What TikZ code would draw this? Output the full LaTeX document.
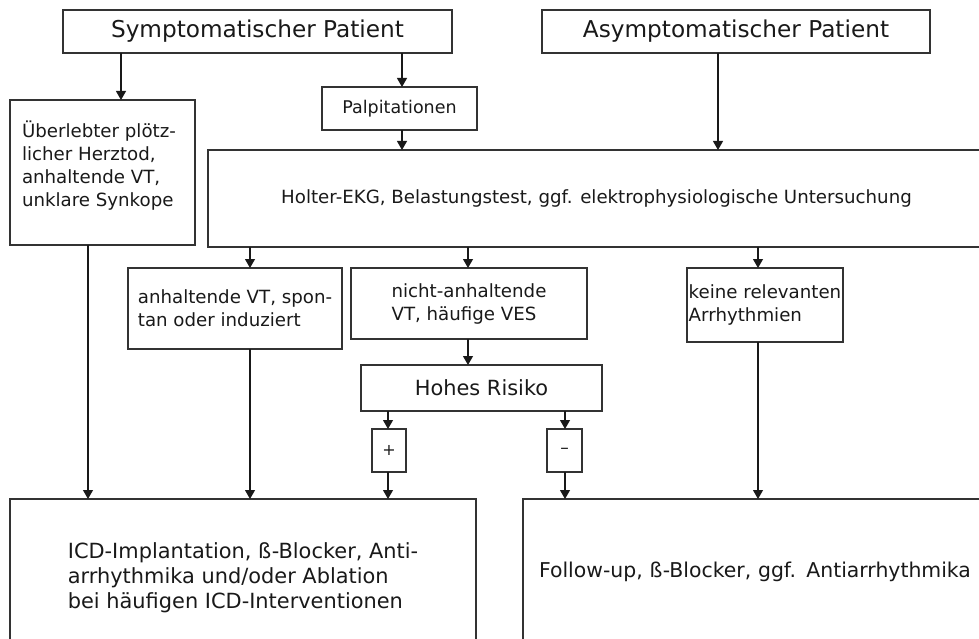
\documentclass[tikz,border=0pt]{standalone}
\usepackage{fontspec}
\setmainfont{DejaVu Sans}
\usetikzlibrary{arrows.meta, positioning, calc}

\begin{document}
\begin{tikzpicture}[x=1pt, y=-1pt,
  box/.style={draw=black!80, line width=1.3pt, inner sep=0pt, outer sep=0pt, anchor=north west, text=black!90},
  arr/.style={-{Triangle[length=9pt,width=10pt]}, line width=1.1pt, draw=black!90},
  bigtxt/.style={font=\fontsize{23.2}{28}\selectfont},
  midtxt/.style={font=\fontsize{20.9}{25}\selectfont},
  txt/.style={font=\fontsize{18.2}{23}\selectfont}]
  \useasboundingbox (0,0) rectangle (979,639);
  % top row
  \node[box, bigtxt, minimum width=389, minimum height=43] (symp) at (63,10) {Symptomatischer Patient};
  \node[box, bigtxt, minimum width=388, minimum height=43] (asym) at (542,10) {Asymptomatischer Patient};
  % second row
  \node[box, txt] (ueber) at (10,100) {\parbox[c][145pt][t]{185pt}{\vspace*{21pt}\hspace*{12pt}Überlebter plötz-\\\hspace*{12pt}licher Herztod,\\\hspace*{12pt}anhaltende VT,\\\hspace*{12pt}unklare Synkope}};
  \node[box, font=\fontsize{17.5}{22}\selectfont, minimum width=155, minimum height=43] (palp) at (322,87) {Palpitationen};
  \node[box, txt, minimum width=777, minimum height=97] (holter) at (208,150) {Holter-EKG, Belastungstest, ggf. elektrophysiologische Untersuchung};
  % findings
  \node[box, txt, align=left, minimum width=214, minimum height=81] (anh) at (128,268) {anhaltende VT, spon-\\tan oder induziert};
  \node[box, txt, align=left, minimum width=236, minimum height=71] (nicht) at (351,268) {nicht-anhaltende\\VT, häufige VES};
  \node[box, txt, align=left, minimum width=156, minimum height=74] (keine) at (687,268) {keine relevanten\\Arrhythmien};
  \node[box, midtxt, minimum width=241, minimum height=46] (hohes) at (361,365) {Hohes Risiko};
  \node[box, font=\fontsize{16}{18}\selectfont, minimum width=34, minimum height=43] (plus) at (372,429) {+};
  \node[box, font=\fontsize{17}{18}\selectfont, minimum width=35, minimum height=43] (minus) at (547,429) {–};
  % therapy
  \node[box, midtxt, align=left, minimum width=466, minimum height=158] (icd) at (10,499) {ICD-Implantation, ß-Blocker, Anti-\\arrhythmika und/oder Ablation\\bei häufigen ICD-Interventionen};
  \node[box, font=\fontsize{20.4}{25}\selectfont, align=left, inner xsep=16pt, text width=455pt, minimum height=146] (follow) at (523,499) {Follow-up, ß-Blocker, ggf. Antiarrhythmika};
  % arrow columns
  \coordinate (xu) at (121,0);
  \coordinate (xp) at (402,0);
  \coordinate (xa) at (718,0);
  \coordinate (xs) at (88,0);
  \coordinate (xv) at (250,0);
  \coordinate (xn) at (468,0);
  \coordinate (xk) at (758,0);
  \coordinate (xpl) at (388,0);
  \coordinate (xmi) at (565,0);
  % connectors
  \draw[arr] (symp.south -| xu) -- (ueber.north -| xu);
  \draw[arr] (symp.south -| xp) -- (palp.north -| xp);
  \draw[arr] (palp.south -| xp) -- (holter.north -| xp);
  \draw[arr] (asym.south -| xa) -- (holter.north -| xa);
  \draw[arr] (holter.south -| xv) -- (anh.north -| xv);
  \draw[arr] (holter.south -| xn) -- (nicht.north -| xn);
  \draw[arr] (holter.south -| xk) -- (keine.north -| xk);
  \draw[arr] (nicht.south -| xn) -- (hohes.north -| xn);
  \draw[arr] (hohes.south -| xpl) -- (plus.north -| xpl);
  \draw[arr] (hohes.south -| xmi) -- (minus.north -| xmi);
  \draw[arr] (ueber.south -| xs) -- (icd.north -| xs);
  \draw[arr] (anh.south -| xv) -- (icd.north -| xv);
  \draw[arr] (plus.south -| xpl) -- (icd.north -| xpl);
  \draw[arr] (minus.south -| xmi) -- (follow.north -| xmi);
  \draw[arr] (keine.south -| xk) -- (follow.north -| xk);
\end{tikzpicture}
\end{document}
